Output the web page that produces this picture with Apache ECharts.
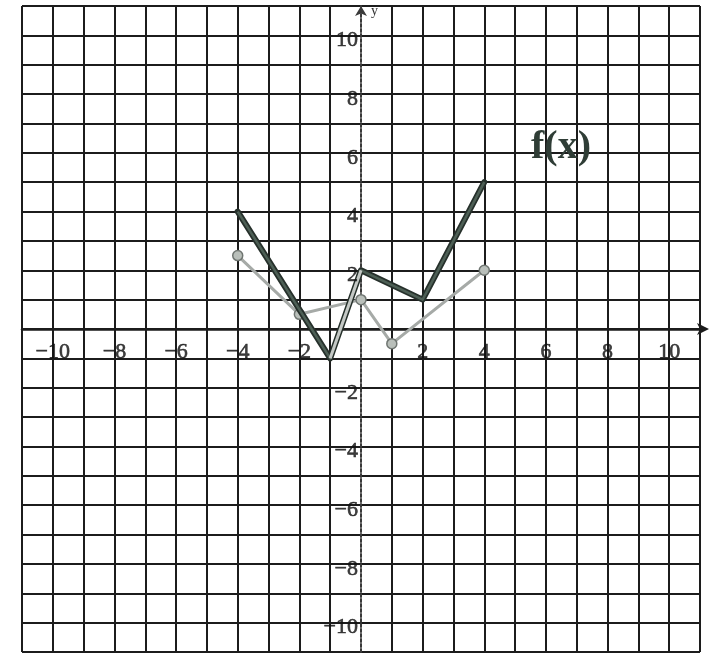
<!DOCTYPE html>
<html>
<head>
<meta charset="utf-8">
<script src="https://cdn.jsdelivr.net/npm/echarts@6/dist/echarts.min.js"></script>
<style>
  html, body { margin: 0; padding: 0; background: #ffffff; }
  #chart { width: 720px; height: 657px; }
</style>
</head>
<body>
<div id="chart"></div>
<script>
// Graph of f(x) (thick dark polyline) and a transformed copy (thin grey polyline)
const fX = [-4, -1, 0, 2, 4];
const fY = [4, -1, 2, 1, 5];

const gX = [-4, -2, 0, 1, 4];
const gY = [2.5, 0.5, 1, -0.5, 2];

// Even numbers labelled along both axes
const tickLabels = [-10, -8, -6, -4, -2, 2, 4, 6, 8, 10];

const axisMin = -11;
const axisMax = 11;

const fData = fX.map((x, i) => [x, fY[i]]);
const gData = gX.map((x, i) => [x, gY[i]]);

const ink = '#1c1c1c';
const serif = '"Liberation Serif", "DejaVu Serif", serif';
const minus = v => String(v).replace('-', '\u2212');

// Grid lines: one per unit, the line at 0 is left to the dashed y axis
const gridColors = [];
for (let v = axisMin; v <= axisMax; v++) gridColors.push(v === 0 ? 'rgba(0,0,0,0)' : ink);

const chart = echarts.init(document.getElementById('chart'), null, { renderer: 'canvas' });

const labelText = {
  fontFamily: serif,
  fontSize: 22,
  color: '#111111',
  textBorderColor: '#111111',
  textBorderWidth: 0.6
};

chart.setOption({
  backgroundColor: '#ffffff',
  animation: false,
  grid: { left: 22, right: 20, top: 6, bottom: 5, outerBoundsMode: 'none', containLabel: false },
  xAxis: {
    type: 'value',
    min: axisMin,
    max: axisMax,
    interval: 1,
    axisLine: {
      onZero: true,
      lineStyle: { color: ink, width: 2.5 },
      symbol: ['none', 'arrow'],
      symbolSize: [9, 12],
      symbolOffset: [0, 9]
    },
    axisTick: { show: false },
    axisLabel: { show: false },
    splitLine: { show: true, lineStyle: { color: gridColors, width: 2 } }
  },
  yAxis: {
    type: 'value',
    min: axisMin,
    max: axisMax,
    interval: 1,
    name: 'y',
    nameLocation: 'end',
    nameGap: -12,
    nameTextStyle: { fontSize: 14, color: '#333', fontFamily: serif, align: 'left', padding: [0, 0, 0, 10] },
    axisLine: {
      onZero: true,
      lineStyle: { color: '#3a3a3a', width: 2, type: [3, 2] },
      symbol: ['none', 'arrow'],
      symbolSize: [9, 10]
    },
    axisTick: { show: false },
    axisLabel: { show: false },
    splitLine: { show: true, lineStyle: { color: ink, width: 2 } }
  },
  graphic: [
    {
      type: 'text',
      left: 531,
      top: 128,
      style: {
        text: 'f(x)',
        font: 'bold 40px "Liberation Serif", serif',
        fill: '#2f3d36'
      },
      z: 10
    }
  ],
  series: [
    {
      // x tick labels, hung just below the x axis
      name: 'x-labels',
      type: 'scatter',
      data: tickLabels.map(v => [v, 0]),
      symbolSize: 0,
      silent: true,
      z: 8,
      label: Object.assign({
        show: true,
        position: 'bottom',
        distance: 12,
        formatter: p => minus(p.value[0])
      }, labelText)
    },
    {
      // y tick labels, right-aligned against the y axis
      name: 'y-labels',
      type: 'scatter',
      data: tickLabels.map(v => [0, v]),
      symbolSize: 0,
      silent: true,
      z: 8,
      label: Object.assign({
        show: true,
        position: 'left',
        distance: 3,
        offset: [0, 5],
        formatter: p => minus(p.value[1])
      }, labelText)
    },
    {
      name: 'g',
      type: 'line',
      data: gData,
      z: 3,
      symbol: 'circle',
      symbolSize: 10,
      lineStyle: { color: '#a6aaa7', width: 3 },
      itemStyle: { color: '#b9bfba', borderColor: '#6f7571', borderWidth: 1.5 }
    },
    {
      name: 'f',
      type: 'line',
      data: fData,
      z: 4,
      symbol: 'none',
      lineStyle: { color: '#26302b', width: 6, cap: 'round', join: 'round' }
    },
    {
      name: 'f-inner',
      type: 'line',
      data: fData,
      z: 5,
      symbol: 'none',
      lineStyle: { color: '#4d5f55', width: 2.5, join: 'round' }
    },
    {
      // rising segment of f drawn in a lighter, hollow stroke
      name: 'f-light',
      type: 'line',
      data: fData.slice(1, 3),
      z: 6,
      symbol: 'none',
      lineStyle: { color: '#c4c8c5', width: 3 }
    }
  ]
});
</script>
</body>
</html>
